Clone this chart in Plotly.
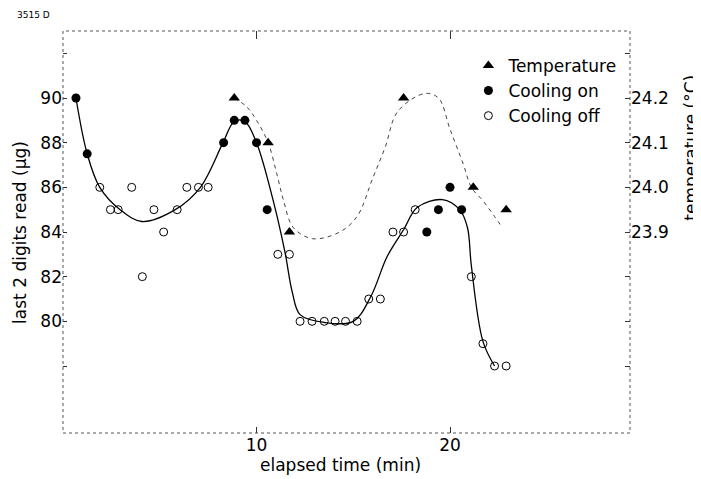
import plotly.graph_objects as go

# ---- data ----
# Cooling on (filled circles): elapsed time (min), last 2 digits (ug)
on_t = [0.67, 1.25, 8.3, 8.85, 9.4, 10.0, 10.55, 18.8, 19.4, 20.0, 20.6]
on_v = [90, 87.5, 88, 89, 89, 88, 85, 84, 85, 86, 85]

# Cooling off (open circles)
off_t = [1.9, 2.45, 2.85, 3.55, 4.1, 4.7, 5.2, 5.9, 6.4, 7.0, 7.5,
         11.1, 11.7, 12.25, 12.87, 13.5, 14.06, 14.6, 15.2, 15.8, 16.4,
         17.05, 17.6, 18.2, 21.1, 21.7, 22.3, 22.9]
off_v = [86, 85, 85, 86, 82, 85, 84, 85, 86, 86, 86,
         83, 83, 80, 80, 80, 80, 80, 80, 81, 81,
         84, 84, 85, 82, 79, 78, 78]

# Temperature (triangles), deg C
temp_t = [8.85, 10.6, 11.7, 17.6, 21.2, 22.9]
temp_v = [24.2, 24.1, 23.9, 24.2, 24.0, 23.95]

# fitted mass curve (solid)
fit_t = [0.67, 1.25, 1.9, 2.95, 4.08, 5.8, 7.1, 8.27, 8.85, 9.4, 10.0, 10.85,
         11.47, 11.85, 12.25, 13.5, 15.0, 15.9, 16.75, 17.6, 18.3, 19.6, 20.5,
         20.9, 21.1, 21.7, 22.3]
fit_v = [90, 87.5, 86, 85, 84.47, 85, 86, 88, 88.95, 88.95, 88, 85.45,
         83.1, 81.3, 80.3, 79.95, 80, 81.1, 82.9, 84.1, 85.1, 85.45, 85,
         84.2, 82.5, 79.1, 78]

# fitted temperature curve (dashed)
tfit_t = [8.85, 9.5, 10.0, 10.6, 11.05, 11.4, 11.9, 12.9, 14.3, 15.2, 16.0,
          16.65, 17.3, 18.7, 19.4, 20.0, 20.7, 21.1, 21.7, 22.3, 22.7]
tfit_v = [24.2, 24.18, 24.15, 24.1, 24.03, 23.97, 23.91, 23.885, 23.9, 23.935, 24.02,
          24.09, 24.17, 24.21, 24.2, 24.13, 24.05, 24.0, 23.97, 23.935, 23.91]

x_ticks = [10, 20]
y_ticks = [78, 80, 82, 84, 86, 88, 90, 92]
y_labels = ["", "80", "82", "84", "86", "88", "90", ""]
y2_ticks = [23.6, 23.7, 23.8, 23.9, 24.0, 24.1, 24.2, 24.3]
y2_labels = ["", "", "", "23.9", "24.0", "24.1", "24.2", ""]

FONT = "DejaVu Sans"

fig = go.Figure()

fig.add_trace(go.Scatter(x=fit_t, y=fit_v, mode="lines",
                         line=dict(color="black", width=1.3, shape="spline", smoothing=1.0),
                         showlegend=False, hoverinfo="skip"))
fig.add_trace(go.Scatter(x=tfit_t, y=tfit_v, mode="lines", yaxis="y2",
                         line=dict(color="#444", width=1, dash="4px,4px", shape="spline", smoothing=1.0),
                         showlegend=False, hoverinfo="skip"))
fig.add_trace(go.Scatter(x=temp_t, y=temp_v, mode="markers", yaxis="y2", name="Temperature",
                         marker=dict(symbol="triangle-up", size=10, color="black")))
fig.add_trace(go.Scatter(x=on_t, y=on_v, mode="markers", name="Cooling on",
                         marker=dict(symbol="circle", size=9, color="black")))
fig.add_trace(go.Scatter(x=off_t, y=off_v, mode="markers", name="Cooling off",
                         marker=dict(symbol="circle-open", size=8, color="black",
                                     line=dict(width=1))))

fig.update_layout(
    width=701, height=479,
    # page body has an 8px margin, so compensate
    margin=dict(l=55, r=79, t=23, b=54),
    paper_bgcolor="white", plot_bgcolor="white",
    font=dict(family=FONT, color="black", size=17),
    xaxis=dict(range=[0, 29.3], tickvals=x_ticks, ticks="inside", ticklen=6,
               tickcolor="#333", showgrid=False, zeroline=False, showline=False,
               tickfont=dict(size=17)),
    xaxis2=dict(range=[0, 29.3], overlaying="x", side="top", tickvals=x_ticks,
                ticks="inside", ticklen=8, tickcolor="#333", showticklabels=False,
                showgrid=False, zeroline=False, showline=False),
    yaxis=dict(range=[75, 93], tickvals=y_ticks, ticktext=y_labels, ticks="inside",
               ticklen=4, tickcolor="#333", showgrid=False, zeroline=False,
               showline=False, tickfont=dict(size=17)),
    yaxis2=dict(range=[23.45, 24.35], overlaying="y", side="right", tickvals=y2_ticks,
                ticktext=y2_labels, ticks="inside", ticklen=5, tickcolor="#333",
                showgrid=False, zeroline=False, showline=False, tickfont=dict(size=17)),
    legend=dict(x=0.715, y=0.958, xanchor="left", yanchor="top", bgcolor="rgba(0,0,0,0)",
                font=dict(size=17), itemwidth=30, tracegroupgap=0),
    shapes=[dict(type="rect", xref="paper", yref="paper", x0=0, x1=1, y0=0, y1=1,
                 line=dict(color="#555", width=1, dash="dot"))],
    annotations=[
        dict(text="last 2 digits read (μg)", xref="paper", yref="paper", x=-0.076, y=0.5,
             textangle=-90, showarrow=False, xanchor="center", yanchor="middle",
             font=dict(size=17)),
        dict(text="temperature (°C)", xref="paper", yref="paper", x=1.106, y=0.71,
             textangle=-90, showarrow=False, xanchor="center", yanchor="middle",
             font=dict(size=17)),
        dict(text="elapsed time (min)", xref="paper", yref="paper", x=0.489, y=-0.08,
             showarrow=False, xanchor="center", yanchor="middle", font=dict(size=17)),
        dict(text="3515 D", xref="paper", yref="paper", x=-0.085, y=1.04,
             showarrow=False, xanchor="left", yanchor="middle", font=dict(size=9)),
    ],
)
# invisible trace so the top tick axis renders
fig.add_trace(go.Scatter(x=[None], y=[None], xaxis="x2", showlegend=False, hoverinfo="skip"))

fig.write_html("out.html")
